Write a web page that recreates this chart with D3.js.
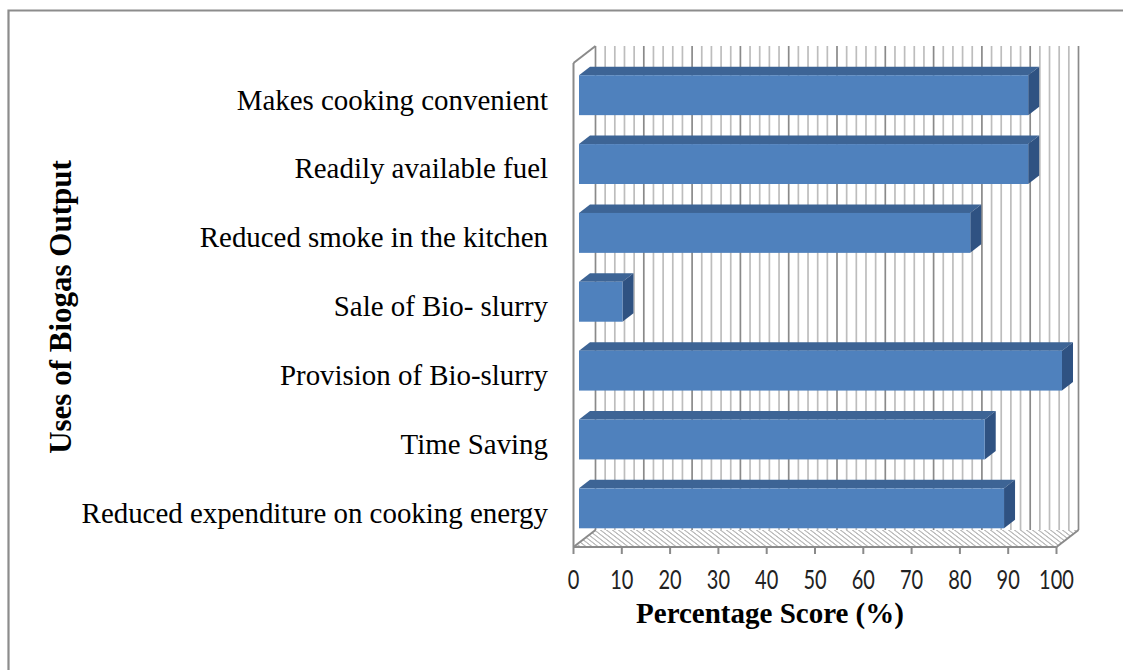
<!DOCTYPE html>
<html>
<head>
<meta charset="utf-8">
<script src="https://cdn.jsdelivr.net/npm/d3@7"></script>
<style>
  html, body { margin: 0; padding: 0; background: #fff; }
  svg { display: block; }
</style>
</head>
<body>
<svg id="chart" width="1123" height="670"></svg>
<script>
// Uses of biogas output, percentage score per item (top to bottom)
const categories = [
  "Makes cooking convenient",
  "Readily available fuel",
  "Reduced smoke in the kitchen",
  "Sale of Bio- slurry",
  "Provision of Bio-slurry",
  "Time Saving",
  "Reduced expenditure on cooking energy"
];
const scores = [93, 93, 81, 9, 100, 84, 88];
const xTicks = [0, 10, 20, 30, 40, 50, 60, 70, 80, 90, 100];
const minorStep = 2;

const svg = d3.select("#chart");

// Chart frame
svg.append("path")
  .attr("d", "M8.5,680 L8.5,10.5 L1135,10.5")
  .attr("fill", "none").attr("stroke", "#8c8c8c").attr("stroke-width", 2.2);

// Front plane of the 3-D box, and the depth shift of the back plane
const plot = { left: 573.5, right: 1056.5, top: 63, bottom: 547 };
const depth = { dx: 22, dy: -17 };
const barDepth = [0.25, 0.75];

const x = d3.scaleLinear().domain([0, 100]).range([plot.left, plot.right]);
const y = d3.scaleBand().domain(categories).range([65, plot.bottom]).paddingInner(0.42).paddingOuter(0.21);

const grid = svg.append("g");
const minorVals = d3.range(0, 100 + minorStep / 2, minorStep);

// Floor with diagonal hatching
const defs = svg.append("defs");
const pat = defs.append("pattern")
  .attr("id", "hatch").attr("patternUnits", "userSpaceOnUse")
  .attr("width", 6).attr("height", 17)
  .attr("patternTransform", `translate(${plot.left},${plot.bottom}) skewX(${Math.atan2(depth.dx, -depth.dy) * 180 / Math.PI})`);
pat.append("line").attr("x1", 1).attr("y1", 0).attr("x2", 1).attr("y2", 17)
  .attr("stroke", "#8f8f8f").attr("stroke-width", 1.2);

const floorPts = [
  [x(0), plot.bottom], [x(100), plot.bottom],
  [x(100) + depth.dx, plot.bottom + depth.dy], [x(0) + depth.dx, plot.bottom + depth.dy]
];
grid.append("polygon").attr("points", floorPts.map(p => p.join(",")).join(" "))
  .attr("fill", "url(#hatch)").attr("stroke", "none");

// Back wall gridlines
grid.selectAll("line.minor").data(minorVals).join("line")
  .attr("class", "minor")
  .attr("x1", d => x(d) + depth.dx).attr("x2", d => x(d) + depth.dx)
  .attr("y1", plot.top + depth.dy).attr("y2", plot.bottom + depth.dy)
  .attr("stroke", d => d % 10 === 0 ? "#8a8a8a" : "#bdbdbd")
  .attr("stroke-width", 1.7);

// Box edges: left wall, floor edges, right edge
const edge = "#8a8a8a";
const edges = [
  [[x(0), plot.top], [x(0) + depth.dx, plot.top + depth.dy]],
  [[x(0), plot.top], [x(0), plot.bottom]],
  [[x(0), plot.bottom], [x(0) + depth.dx, plot.bottom + depth.dy]],
  [[x(0), plot.bottom], [x(100), plot.bottom]],
  [[x(100), plot.bottom], [x(100) + depth.dx, plot.bottom + depth.dy]]
];
grid.selectAll("line.edge").data(edges).join("line")
  .attr("class", "edge")
  .attr("x1", d => d[0][0]).attr("y1", d => d[0][1])
  .attr("x2", d => d[1][0]).attr("y2", d => d[1][1])
  .attr("stroke", edge).attr("stroke-width", 2);

// Tick marks and labels along the front floor edge
grid.selectAll("line.tick").data(xTicks).join("line")
  .attr("class", "tick")
  .attr("x1", d => x(d)).attr("x2", d => x(d))
  .attr("y1", plot.bottom).attr("y2", plot.bottom + 7)
  .attr("stroke", edge).attr("stroke-width", 2);

svg.append("g").selectAll("text").data(xTicks).join("text")
  .attr("transform", d => `translate(${x(d)},${589}) scale(1,1.35)`)
  .attr("text-anchor", "middle")
  .attr("font-family", "Lato, 'Noto Sans', sans-serif")
  .attr("font-size", 20)
  .attr("fill", "#222")
  .text(d => d);

// 3-D bars: top face, end face, front face
const bars = svg.append("g");
const ox0 = depth.dx * barDepth[0], oy0 = depth.dy * barDepth[0];
const ddx = depth.dx * (barDepth[1] - barDepth[0]), ddy = depth.dy * (barDepth[1] - barDepth[0]);
categories.forEach((c, i) => {
  const x0 = x(0) + ox0, x1 = x(scores[i]) + ox0;
  const yt = y(c) + oy0, yb = y(c) + y.bandwidth() + oy0;
  const g = bars.append("g");
  g.append("polygon")
    .attr("points", [[x0, yt], [x1, yt], [x1 + ddx, yt + ddy], [x0 + ddx, yt + ddy]].map(p => p.join(",")).join(" "))
    .attr("fill", "#3d6495");
  g.append("polygon")
    .attr("points", [[x1, yt], [x1 + ddx, yt + ddy], [x1 + ddx, yb + ddy], [x1, yb]].map(p => p.join(",")).join(" "))
    .attr("fill", "#2f5282");
  g.append("rect")
    .attr("x", x0).attr("y", yt).attr("width", x1 - x0).attr("height", yb - yt)
    .attr("fill", "#4f81bd");
});

// Category labels
svg.append("g").selectAll("text").data(categories).join("text")
  .attr("x", 548)
  .attr("y", d => y(d) + y.bandwidth() / 2)
  .attr("dy", "0.35em")
  .attr("text-anchor", "end")
  .attr("font-family", "'Liberation Serif', 'Times New Roman', serif")
  .attr("font-size", 28.9)
  .attr("fill", "#000")
  .text(d => d);

// Axis titles
svg.append("text")
  .attr("transform", "translate(71,307) rotate(-90)")
  .attr("text-anchor", "middle")
  .attr("font-family", "'Liberation Serif', 'Times New Roman', serif")
  .attr("font-weight", "bold")
  .attr("font-size", 31)
  .text("Uses of Biogas Output");

svg.append("text")
  .attr("x", 770).attr("y", 623)
  .attr("text-anchor", "middle")
  .attr("font-family", "'Liberation Serif', 'Times New Roman', serif")
  .attr("font-weight", "bold")
  .attr("font-size", 29)
  .text("Percentage Score (%)");
</script>
</body>
</html>
